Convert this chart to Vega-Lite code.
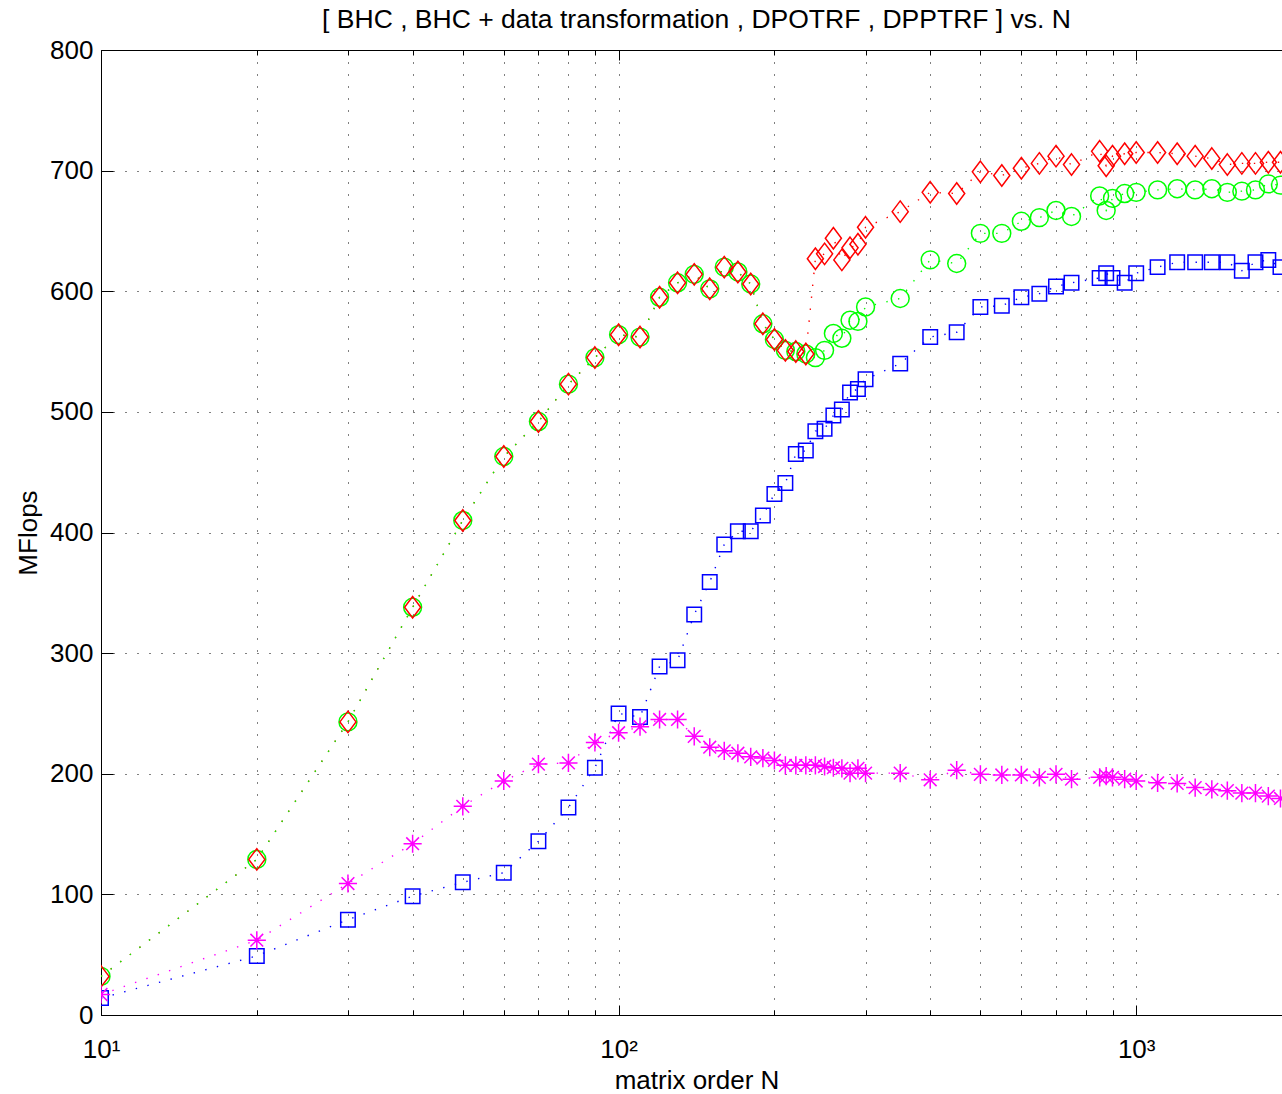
{
"$schema": "https://vega.github.io/schema/vega-lite/v6.json",
"width": 1191, "height": 965,
"autosize": "none",
"padding": {"left": 101, "top": 50, "right": 0, "bottom": 79},
"background": "white",
"config": {
  "view": {"stroke": "black", "strokeWidth": 1},
  "font": "Liberation Sans",
  "axis": {"labelFont": "Liberation Sans", "titleFont": "Liberation Sans", "labelFontSize": 26, "titleFontSize": 26, "labelColor": "black", "titleColor": "black", "titleFontWeight": "normal", "tickColor": "black", "tickWidth": 1, "gridColor": "black", "gridDash": [1, 11], "gridOpacity": 1, "gridWidth": 1, "labelFlush": false, "labelOverlap": false, "labelBound": false, "domain": false}
},
"title": {"text": "[ BHC , BHC + data transformation , DPOTRF , DPPTRF ] vs. N", "font": "Liberation Sans", "fontSize": 26.5, "fontWeight": "normal", "color": "black", "offset": 4, "anchor": "middle"},
"data": {"values": [
{"s":"BHC","N":10,"v":32},{"s":"BHC","N":20,"v":129},{"s":"BHC","N":30,"v":243},{"s":"BHC","N":40,"v":338},{"s":"BHC","N":50,"v":410},{"s":"BHC","N":60,"v":463},{"s":"BHC","N":70,"v":492},{"s":"BHC","N":80,"v":523},{"s":"BHC","N":90,"v":545},{"s":"BHC","N":100,"v":564},
{"s":"BHC","N":110,"v":562},{"s":"BHC","N":120,"v":595},{"s":"BHC","N":130,"v":607},{"s":"BHC","N":140,"v":614},{"s":"BHC","N":150,"v":602},{"s":"BHC","N":160,"v":620},{"s":"BHC","N":170,"v":616},{"s":"BHC","N":180,"v":606},{"s":"BHC","N":190,"v":573},{"s":"BHC","N":200,"v":560},{"s":"BHC","N":210,"v":551},{"s":"BHC","N":220,"v":550},{"s":"BHC","N":230,"v":548},
{"s":"BHC","N":240,"v":627},{"s":"BHC","N":250,"v":631},{"s":"BHC","N":260,"v":644},{"s":"BHC","N":270,"v":626},{"s":"BHC","N":280,"v":636},{"s":"BHC","N":290,"v":639},{"s":"BHC","N":300,"v":653},
{"s":"BHC","N":350,"v":666},{"s":"BHC","N":400,"v":682},{"s":"BHC","N":450,"v":681},{"s":"BHC","N":500,"v":699},{"s":"BHC","N":550,"v":696},{"s":"BHC","N":600,"v":702},{"s":"BHC","N":650,"v":706},{"s":"BHC","N":700,"v":712},{"s":"BHC","N":750,"v":705},
{"s":"BHC","N":850,"v":716},{"s":"BHC","N":875,"v":704},{"s":"BHC","N":900,"v":712},{"s":"BHC","N":950,"v":714},{"s":"BHC","N":1000,"v":715},
{"s":"BHC","N":1100,"v":715},{"s":"BHC","N":1200,"v":714},{"s":"BHC","N":1300,"v":712},{"s":"BHC","N":1400,"v":710},{"s":"BHC","N":1500,"v":705},{"s":"BHC","N":1600,"v":706},{"s":"BHC","N":1700,"v":706},{"s":"BHC","N":1800,"v":707},{"s":"BHC","N":1900,"v":707},

{"s":"BHC + data transformation","N":10,"v":32},{"s":"BHC + data transformation","N":20,"v":129},{"s":"BHC + data transformation","N":30,"v":243},{"s":"BHC + data transformation","N":40,"v":338},{"s":"BHC + data transformation","N":50,"v":410},{"s":"BHC + data transformation","N":60,"v":463},{"s":"BHC + data transformation","N":70,"v":492},{"s":"BHC + data transformation","N":80,"v":523},{"s":"BHC + data transformation","N":90,"v":545},{"s":"BHC + data transformation","N":100,"v":564},
{"s":"BHC + data transformation","N":110,"v":562},{"s":"BHC + data transformation","N":120,"v":595},{"s":"BHC + data transformation","N":130,"v":607},{"s":"BHC + data transformation","N":140,"v":614},{"s":"BHC + data transformation","N":150,"v":602},{"s":"BHC + data transformation","N":160,"v":620},{"s":"BHC + data transformation","N":170,"v":616},{"s":"BHC + data transformation","N":180,"v":606},{"s":"BHC + data transformation","N":190,"v":573},{"s":"BHC + data transformation","N":200,"v":560},{"s":"BHC + data transformation","N":210,"v":551},{"s":"BHC + data transformation","N":220,"v":550},{"s":"BHC + data transformation","N":230,"v":548},
{"s":"BHC + data transformation","N":240,"v":545},{"s":"BHC + data transformation","N":250,"v":551},{"s":"BHC + data transformation","N":260,"v":565},{"s":"BHC + data transformation","N":270,"v":561},{"s":"BHC + data transformation","N":280,"v":576},{"s":"BHC + data transformation","N":290,"v":575},{"s":"BHC + data transformation","N":300,"v":587},
{"s":"BHC + data transformation","N":350,"v":594},{"s":"BHC + data transformation","N":400,"v":626},{"s":"BHC + data transformation","N":450,"v":623},{"s":"BHC + data transformation","N":500,"v":648},{"s":"BHC + data transformation","N":550,"v":648},{"s":"BHC + data transformation","N":600,"v":658},{"s":"BHC + data transformation","N":650,"v":661},{"s":"BHC + data transformation","N":700,"v":667},{"s":"BHC + data transformation","N":750,"v":662},
{"s":"BHC + data transformation","N":850,"v":679},{"s":"BHC + data transformation","N":875,"v":667},{"s":"BHC + data transformation","N":900,"v":677},{"s":"BHC + data transformation","N":950,"v":681},{"s":"BHC + data transformation","N":1000,"v":682},
{"s":"BHC + data transformation","N":1100,"v":684},{"s":"BHC + data transformation","N":1200,"v":685},{"s":"BHC + data transformation","N":1300,"v":684},{"s":"BHC + data transformation","N":1400,"v":685},{"s":"BHC + data transformation","N":1500,"v":682},{"s":"BHC + data transformation","N":1600,"v":683},{"s":"BHC + data transformation","N":1700,"v":684},{"s":"BHC + data transformation","N":1800,"v":689},{"s":"BHC + data transformation","N":1900,"v":688},

{"s":"DPOTRF","N":10,"v":14},{"s":"DPOTRF","N":20,"v":49},{"s":"DPOTRF","N":30,"v":79},{"s":"DPOTRF","N":40,"v":98.5},{"s":"DPOTRF","N":50,"v":110},{"s":"DPOTRF","N":60,"v":118},{"s":"DPOTRF","N":70,"v":144},{"s":"DPOTRF","N":80,"v":172},{"s":"DPOTRF","N":90,"v":205},{"s":"DPOTRF","N":100,"v":250},
{"s":"DPOTRF","N":110,"v":247},{"s":"DPOTRF","N":120,"v":289},{"s":"DPOTRF","N":130,"v":294},{"s":"DPOTRF","N":140,"v":332},{"s":"DPOTRF","N":150,"v":359},{"s":"DPOTRF","N":160,"v":390},{"s":"DPOTRF","N":170,"v":401},{"s":"DPOTRF","N":180,"v":401},{"s":"DPOTRF","N":190,"v":414},{"s":"DPOTRF","N":200,"v":432},{"s":"DPOTRF","N":210,"v":441},{"s":"DPOTRF","N":220,"v":465},{"s":"DPOTRF","N":230,"v":468},
{"s":"DPOTRF","N":240,"v":484},{"s":"DPOTRF","N":250,"v":486},{"s":"DPOTRF","N":260,"v":497},{"s":"DPOTRF","N":270,"v":502},{"s":"DPOTRF","N":280,"v":516},{"s":"DPOTRF","N":290,"v":519},{"s":"DPOTRF","N":300,"v":527},
{"s":"DPOTRF","N":350,"v":540},{"s":"DPOTRF","N":400,"v":562},{"s":"DPOTRF","N":450,"v":566},{"s":"DPOTRF","N":500,"v":587},{"s":"DPOTRF","N":550,"v":588},{"s":"DPOTRF","N":600,"v":595},{"s":"DPOTRF","N":650,"v":598},{"s":"DPOTRF","N":700,"v":604},{"s":"DPOTRF","N":750,"v":607},
{"s":"DPOTRF","N":850,"v":611},{"s":"DPOTRF","N":875,"v":615},{"s":"DPOTRF","N":900,"v":611},{"s":"DPOTRF","N":950,"v":607},{"s":"DPOTRF","N":1000,"v":615},
{"s":"DPOTRF","N":1100,"v":620},{"s":"DPOTRF","N":1200,"v":624},{"s":"DPOTRF","N":1300,"v":624},{"s":"DPOTRF","N":1400,"v":624},{"s":"DPOTRF","N":1500,"v":624},{"s":"DPOTRF","N":1600,"v":617},{"s":"DPOTRF","N":1700,"v":624},{"s":"DPOTRF","N":1800,"v":626},{"s":"DPOTRF","N":1900,"v":620},

{"s":"DPPTRF","N":10,"v":17},{"s":"DPPTRF","N":20,"v":62},{"s":"DPPTRF","N":30,"v":109},{"s":"DPPTRF","N":40,"v":142},{"s":"DPPTRF","N":50,"v":173},{"s":"DPPTRF","N":60,"v":194},{"s":"DPPTRF","N":70,"v":208},{"s":"DPPTRF","N":80,"v":209},{"s":"DPPTRF","N":90,"v":226},{"s":"DPPTRF","N":100,"v":234},
{"s":"DPPTRF","N":110,"v":239},{"s":"DPPTRF","N":120,"v":245},{"s":"DPPTRF","N":130,"v":245},{"s":"DPPTRF","N":140,"v":231},{"s":"DPPTRF","N":150,"v":222},{"s":"DPPTRF","N":160,"v":219},{"s":"DPPTRF","N":170,"v":217},{"s":"DPPTRF","N":180,"v":214},{"s":"DPPTRF","N":190,"v":213},{"s":"DPPTRF","N":200,"v":211},{"s":"DPPTRF","N":210,"v":207},{"s":"DPPTRF","N":220,"v":207},{"s":"DPPTRF","N":230,"v":207},
{"s":"DPPTRF","N":240,"v":207},{"s":"DPPTRF","N":250,"v":206},{"s":"DPPTRF","N":260,"v":205},{"s":"DPPTRF","N":270,"v":204.5},{"s":"DPPTRF","N":280,"v":200.5},{"s":"DPPTRF","N":290,"v":204.5},{"s":"DPPTRF","N":300,"v":200.5},
{"s":"DPPTRF","N":350,"v":200.5},{"s":"DPPTRF","N":400,"v":195},{"s":"DPPTRF","N":450,"v":203},{"s":"DPPTRF","N":500,"v":199.5},{"s":"DPPTRF","N":550,"v":199},{"s":"DPPTRF","N":600,"v":199},{"s":"DPPTRF","N":650,"v":197},{"s":"DPPTRF","N":700,"v":199.5},{"s":"DPPTRF","N":750,"v":195.5},
{"s":"DPPTRF","N":850,"v":197},{"s":"DPPTRF","N":875,"v":198},{"s":"DPPTRF","N":900,"v":197},{"s":"DPPTRF","N":950,"v":195.5},{"s":"DPPTRF","N":1000,"v":194},
{"s":"DPPTRF","N":1100,"v":192.5},{"s":"DPPTRF","N":1200,"v":192},{"s":"DPPTRF","N":1300,"v":188.5},{"s":"DPPTRF","N":1400,"v":187},{"s":"DPPTRF","N":1500,"v":186},{"s":"DPPTRF","N":1600,"v":184},{"s":"DPPTRF","N":1700,"v":184},{"s":"DPPTRF","N":1800,"v":181.5},{"s":"DPPTRF","N":1900,"v":179.5}
]},
"layer": [
  {
    "mark": {"type": "line", "strokeWidth": 1.4, "strokeDash": [1.4, 10.6], "clip": true},
    "encoding": {
      "x": {"field": "N", "type": "quantitative", "scale": {"type": "log", "domain": [10, 2000], "nice": false},
        "axis": {"orient": "bottom", "values": [10,20,30,40,50,60,70,80,90,100,200,300,400,500,600,700,800,900,1000,2000], "tickSize": -5, "labels": false, "title": null, "grid": true}},
      "y": {"field": "v", "type": "quantitative", "scale": {"domain": [0, 800], "nice": false},
        "axis": {"orient": "left", "values": [0,100,200,300,400,500,600,700,800], "tickSize": -12, "labelPadding": 20, "title": "MFlops", "titlePadding": 8, "grid": true}},
      "color": {"field": "s", "type": "nominal", "scale": {"domain": ["BHC", "BHC + data transformation", "DPOTRF", "DPPTRF"], "range": ["#ff0000", "#00ff00", "#0000ff", "#ff00ff"]}, "legend": null}
    }
  },
  {
    "transform": [{"filter": "datum.s === 'BHC + data transformation'"}],
    "mark": {"type": "point", "shape": "circle", "filled": false, "size": 320, "strokeWidth": 1.5, "color": "#00ff00", "opacity": 1, "clip": true},
    "encoding": {
      "x": {"field": "N", "type": "quantitative", "scale": {"type": "log", "domain": [10, 2000], "nice": false},
        "axis": {"orient": "bottom", "values": [10, 100, 1000], "tickSize": -10, "labelPadding": 31.5, "labelExpr": "datum.value == 10 ? '10¹' : datum.value == 100 ? '10²' : '10³'", "title": "matrix order N", "titlePadding": 5, "grid": false}},
      "y": {"field": "v", "type": "quantitative", "scale": {"domain": [0, 800], "nice": false}, "axis": null}
    }
  },
  {
    "transform": [{"filter": "datum.s === 'BHC'"}],
    "mark": {"type": "point", "shape": "M0,-1L0.75,0L0,1L-0.75,0Z", "filled": false, "size": 460, "strokeWidth": 1.5, "color": "#ff0000", "opacity": 1, "clip": true},
    "encoding": {
      "x": {"field": "N", "type": "quantitative", "scale": {"type": "log", "domain": [10, 2000], "nice": false},
        "axis": {"orient": "top", "values": [20,30,40,50,60,70,80,90,200,300,400,500,600,700,800,900,2000], "tickSize": -5, "labels": false, "title": null, "grid": false}},
      "y": {"field": "v", "type": "quantitative", "scale": {"domain": [0, 800], "nice": false}, "axis": null}
    }
  },
  {
    "transform": [{"filter": "datum.s === 'DPOTRF'"}],
    "mark": {"type": "point", "shape": "square", "filled": false, "size": 210, "strokeWidth": 1.5, "color": "#0000ff", "opacity": 1, "clip": true},
    "encoding": {
      "x": {"field": "N", "type": "quantitative", "scale": {"type": "log", "domain": [10, 2000], "nice": false},
        "axis": {"orient": "top", "values": [100, 1000], "tickSize": -10, "labels": false, "title": null, "grid": false}},
      "y": {"field": "v", "type": "quantitative", "scale": {"domain": [0, 800], "nice": false}, "axis": null}
    }
  },
  {
    "transform": [{"filter": "datum.s === 'DPPTRF'"}],
    "mark": {"type": "point", "shape": "M0,-1L0,1M-1,0L1,0M-0.7,-0.7L0.7,0.7M-0.7,0.7L0.7,-0.7", "filled": false, "size": 330, "strokeWidth": 1.5, "color": "#ff00ff", "opacity": 1, "clip": true},
    "encoding": {
      "x": {"field": "N", "type": "quantitative", "scale": {"type": "log", "domain": [10, 2000], "nice": false}, "axis": null},
      "y": {"field": "v", "type": "quantitative", "scale": {"domain": [0, 800], "nice": false}, "axis": null}
    }
  }
],
"resolve": {"axis": {"x": "independent", "y": "independent"}}
}
